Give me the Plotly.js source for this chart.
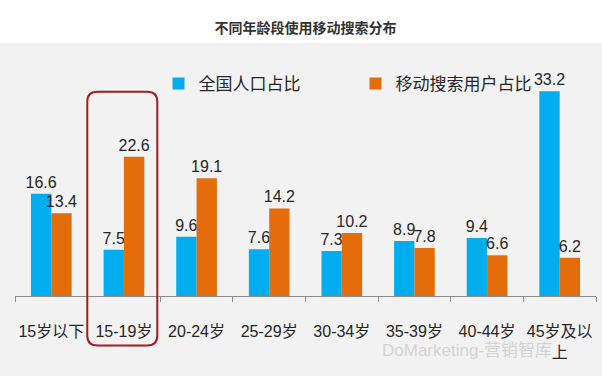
<!DOCTYPE html>
<html>
<head>
<meta charset="utf-8">
<script src="https://cdn.plot.ly/plotly-3.0.1.min.js"></script>
<style>html,body{margin:0;padding:0;background:#fff;}#chart{width:602px;height:392px;}</style>
</head>
<body>
<div id="chart"></div>
<script>
const categories = ['15岁以下', '15-19岁', '20-24岁', '25-29岁', '30-34岁', '35-39岁', '40-44岁', '45岁及以<br>上'];
const populationShare = [16.6, 7.5, 9.6, 7.6, 7.3, 8.9, 9.4, 33.2];
const mobileSearchShare = [13.4, 22.6, 19.1, 14.2, 10.2, 7.8, 6.6, 6.2];
const seriesNames = ['全国人口占比', '移动搜索用户占比'];

const FONT = '"Liberation Sans", Arial, "Noto Sans CJK SC", sans-serif';
const TXT = '#262626';

const traces = [
  {
    type: 'bar', name: seriesNames[0], x: categories, y: populationShare,
    marker: {color: '#00aeef'},
    text: populationShare.map(v => v.toFixed(1)), textposition: 'outside', constraintext: 'none',
    textfont: {family: FONT, size: 16, color: TXT}, cliponaxis: false,
    hoverinfo: 'none'
  },
  {
    type: 'bar', name: seriesNames[1], x: categories, y: mobileSearchShare,
    marker: {color: '#e46c0a'},
    text: mobileSearchShare.map(v => v.toFixed(1)), textposition: 'outside', constraintext: 'none',
    textfont: {family: FONT, size: 16, color: TXT}, cliponaxis: false,
    hoverinfo: 'none'
  }
];

// red highlight box (paper coords)
const bx0 = 0.1244, bx1 = 0.2449, by0 = -0.2234, by1 = 0.920;
const rx = 10 / 581, ry = 10 / 222;
const boxPath = `M${bx0+rx},${by1} L${bx1-rx},${by1} Q${bx1},${by1} ${bx1},${by1-ry} L${bx1},${by0+ry} Q${bx1},${by0} ${bx1-rx},${by0} L${bx0+rx},${by0} Q${bx0},${by0} ${bx0},${by0+ry} L${bx0},${by1-ry} Q${bx0},${by1} ${bx0+rx},${by1} Z`;

const layout = {
  width: 602, height: 392,
  margin: {l: 15, r: 6, t: 74, b: 96},
  paper_bgcolor: '#ffffff',
  plot_bgcolor: 'rgba(0,0,0,0)',
  font: {family: FONT, color: TXT},
  title: {
    text: '<b>不同年龄段使用移动搜索分布</b>',
    font: {family: FONT, size: 14, color: '#333333'},
    x: 0.5, xref: 'paper', xanchor: 'center',
    y: 1 - 28 / 392, yanchor: 'middle'
  },
  barmode: 'group', bargap: 0.44, bargroupgap: 0,
  showlegend: true,
  legend: {
    orientation: 'h', x: 0.247, xanchor: 'left', y: 0.955, yanchor: 'middle',
    font: {family: FONT, size: 17, color: TXT},
    bgcolor: 'rgba(0,0,0,0)', entrywidth: 152, entrywidthmode: 'pixels',
    itemclick: false, itemdoubleclick: false
  },
  xaxis: {
    type: 'category', tickson: 'boundaries', ticks: 'outside', ticklen: 5,
    tickcolor: '#8c8c8c', showline: true, linecolor: '#8c8c8c', linewidth: 1,
    showgrid: false, zeroline: false, tickangle: 0,
    tickfont: {family: FONT, size: 16, color: TXT},
    ticklabelstandoff: 21, fixedrange: true
  },
  yaxis: {
    range: [0, 36], visible: false, showgrid: false, zeroline: false, fixedrange: true
  },
  shapes: [
    {type: 'rect', xref: 'paper', yref: 'paper', x0: -0.03, x1: 1.02, y0: -0.36, y1: 1.1396,
     fillcolor: '#f2f2f2', line: {width: 0}, layer: 'below'},
    {type: 'path', xref: 'paper', yref: 'paper', path: boxPath,
     line: {color: '#a31d1f', width: 2}, fillcolor: 'rgba(0,0,0,0)', layer: 'above'}
  ],
  annotations: [
    {text: 'DoMarketing-营销智库', xref: 'paper', yref: 'paper',
     x: (380 - 15) / 581, y: (296 - 350) / 222, xanchor: 'left', yanchor: 'middle',
     showarrow: false, font: {family: FONT, size: 17, color: 'rgba(200,200,200,0.75)'}}
  ]
};

Plotly.newPlot('chart', traces, layout, {displayModeBar: false, staticPlot: true});
</script>
</body>
</html>
